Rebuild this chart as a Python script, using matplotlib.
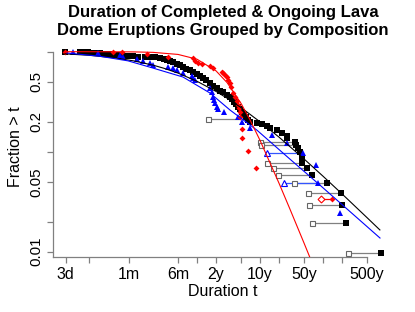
import numpy as np
import matplotlib.pyplot as plt

plt.rcParams['font.family'] = ['Liberation Sans', 'DejaVu Sans']

# durations in years, fraction still erupting after t
black_t = [0.00803, 0.0139, 0.0167, 0.0186, 0.0216, 0.0249, 0.0289, 0.0334, 0.0373, 0.0431,
           0.050, 0.0557, 0.0622, 0.072, 0.0803, 0.0965, 0.1157, 0.1496, 0.1795, 0.2155,
           0.2588, 0.2995, 0.334, 0.3728, 0.416, 0.4816, 0.5372, 0.5995, 0.669, 0.774,
           0.864, 1.0, 1.116, 1.245, 1.389, 1.608, 1.795, 2.076, 2.318, 2.587,
           2.995, 3.342, 3.595, 3.867, 4.16, 4.475, 4.814, 5.179, 5.571, 5.993,
           6.447, 6.936, 8.96, 10.76, 12.92, 14.41, 18.62, 22.35, 26.83, 26.83,
           35.94, 37.27, 40.1, 43.1, 46.4, 46.4, 55.7, 66.9, 115.7, 193,
           200, 232, 833]
black_S = [1.0, 0.995, 0.993, 0.985, 0.980, 0.971, 0.966, 0.959, 0.948, 0.942,
           0.933, 0.927, 0.916, 0.906, 0.906, 0.900, 0.895, 0.885, 0.881, 0.875,
           0.865, 0.845, 0.826, 0.807, 0.780, 0.753, 0.736, 0.703, 0.679, 0.656,
           0.627, 0.599, 0.578, 0.546, 0.521, 0.487, 0.454, 0.434, 0.405, 0.391,
           0.369, 0.352, 0.336, 0.314, 0.300, 0.280, 0.267, 0.249, 0.232, 0.222,
           0.207, 0.198, 0.193, 0.189, 0.180, 0.172, 0.164, 0.153, 0.142, 0.136,
           0.126, 0.117, 0.109, 0.0998, 0.0889, 0.0776, 0.0692, 0.0589, 0.0489, 0.0389,
           0.0295, 0.0195, 0.00973]

blue_t = [0.01076, 0.0268, 0.060, 0.0669, 0.1116, 0.139, 0.1795, 0.2004, 0.3465, 0.416,
          0.4816, 0.5995, 0.833, 0.864, 0.930, 1.608, 1.73, 1.795, 1.862, 1.931,
          2.076, 2.154, 2.683, 4.475, 5.179, 6.936, 15.5, 26.83, 48.2, 77.4,
          83.3, 186]
blue_S = [1.0, 0.971, 0.927, 0.885, 0.845, 0.807, 0.771, 0.736, 0.703, 0.687,
          0.656, 0.612, 0.571, 0.546, 0.521, 0.434, 0.395, 0.352, 0.329, 0.307,
          0.280, 0.267, 0.249, 0.222, 0.198, 0.172, 0.146, 0.122, 0.0975, 0.0741,
          0.0489, 0.0245]

red_t = [0.00803, 0.0464, 0.0645, 0.161, 0.3465, 0.864, 0.930, 1.037, 1.200, 1.608,
         1.795, 2.494, 2.587, 2.783, 2.995, 3.107, 3.342, 3.467, 3.728, 4.011,
         4.315, 4.475, 4.642, 4.814, 4.814, 5.179, 5.179, 6.447, 8.64, 139]
red_S = [1.0, 0.993, 0.982, 0.938, 0.885, 0.855, 0.807, 0.771, 0.753, 0.719,
         0.687, 0.627, 0.606, 0.585, 0.558, 0.521, 0.487, 0.444, 0.386, 0.352,
         0.321, 0.293, 0.273, 0.249, 0.222, 0.168, 0.136, 0.102, 0.0692, 0.0339]

# ongoing eruptions: current duration (open) to projected (filled)
grey_open = [1.494, 10.0, 10.37, 12.92, 16.08, 19.31, 34.66, 57.8, 59.9, 66.9, 249]
grey_end = [4.814, 35.94, 37.27, 46.4, 55.7, 66.9, 115.7, 193, 200, 232, 833]
grey_S = [0.212, 0.126, 0.117, 0.0776, 0.0692, 0.0589, 0.0489, 0.0389, 0.0295, 0.0195, 0.00973]
blue_open = [12.92, 24.04]
blue_end = [48.2, 83.3]
blue_oS = [0.0975, 0.0489]
red_open = [93.0]
red_end = [139]
red_oS = [0.0339]

# fitted curves
fit_t = [0.008, 0.02, 0.05, 0.1, 0.2, 0.3, 0.5, 1, 2, 3, 5, 10, 20, 50, 100, 200, 500, 800]
fit_black = [0.952, 0.919, 0.866, 0.808, 0.734, 0.682, 0.611, 0.506, 0.401, 0.343,
             0.276, 0.199, 0.140, 0.0846, 0.0569, 0.0379, 0.0219, 0.0165]
blue_fit_t = [0.00864, 0.0289, 0.0803, 0.1795, 0.5995, 1.608, 3.342, 8.96, 29.93, 89.5, 268, 803]
fit_blue = [0.97, 0.90, 0.81, 0.70, 0.558, 0.386, 0.261, 0.164, 0.0842, 0.0463, 0.0252, 0.0137]
red_fit_t = [0.008, 0.05, 0.1, 0.2, 0.5, 1, 2, 3, 5, 7, 10, 20, 30, 50, 60, 80]
fit_red = [1.0, 0.998, 0.995, 0.985, 0.939, 0.841, 0.644, 0.491, 0.304, 0.206,
           0.130, 0.0485, 0.0265, 0.0122, 0.0092, 0.0059]

xticks = [3/365, 7/365, 1/12, 0.5, 1, 2, 5, 10, 20, 50, 100, 200, 500]
xlabels = ['3d', '', '1m', '6m', '', '2y', '', '10y', '', '50y', '', '', '500y']
yticks = [0.01, 0.02, 0.05, 0.1, 0.2, 0.5, 1]
ylabels = ['0.01', '', '0.05', '', '0.2', '0.5', '']

W, H = 415, 312
fig = plt.figure(figsize=(W / 100, H / 100), dpi=100)
ax = fig.add_axes([53 / W, (H - 257) / H, (390 - 53) / W, (257 - 40) / H])
ax.set_xscale('log')
ax.set_yscale('log')
ax.set_xlim(0.005179, 1157.5)
ax.set_ylim(0.00885, 1.309)

# ongoing segments
for o, e, s in zip(grey_open, grey_end, grey_S):
    ax.plot([o, e], [s, s], color='0.5', lw=0.9, zorder=2)
ax.plot(grey_open, grey_S, 's', ms=3.6, mfc='white', mec='0.4', mew=0.8, zorder=4)
for o, e, s in zip(blue_open, blue_end, blue_oS):
    ax.plot([o, e], [s, s], color='#3355ff', lw=0.9, zorder=2)
ax.plot(blue_open, blue_oS, '^', ms=4, mfc='white', mec='blue', mew=0.8, zorder=4)
for o, e, s in zip(red_open, red_end, red_oS):
    ax.plot([o, e], [s, s], color='red', lw=0.9, zorder=2)
ax.plot(red_open, red_oS, 'D', ms=3.5, mfc='white', mec='red', mew=0.8, zorder=4)

# completed eruptions
ax.plot(black_t, black_S, 's', ms=3.8, color='black', mew=0, zorder=3)
ax.plot(blue_t, blue_S, '^', ms=4.8, color='blue', mew=0, zorder=3)
ax.plot(red_t, red_S, 'D', ms=3.0, color='red', mew=0, zorder=3)

# fits
ax.plot(fit_t, fit_black, color='black', lw=0.8, zorder=5)
ax.plot(blue_fit_t, fit_blue, color='blue', lw=0.8, zorder=5)
ax.plot(red_fit_t, fit_red, color='red', lw=0.8, zorder=5)

for side in ['top', 'right']:
    ax.spines[side].set_visible(False)
ax.spines['left'].set_bounds(0.00885, 1.0)
ax.spines['bottom'].set_bounds(0.005179, 500)
for side in ['left', 'bottom']:
    ax.spines[side].set_color('0.5')
    ax.spines[side].set_linewidth(0.9)

ax.minorticks_off()
ax.set_xticks(xticks)
ax.set_xticklabels(xlabels, fontsize=11.5)
ax.set_yticks(yticks)
ax.set_yticklabels(ylabels, fontsize=10.8, rotation=90, va='center')
ax.minorticks_off()
ax.tick_params(length=4, width=0.9, color='0.5', pad=3)

fig.text(223 / W, 1 - 12 / H, 'Duration of Completed & Ongoing Lava', ha='center', va='center',
         fontsize=12, fontweight='bold')
fig.text(223 / W, 1 - 31 / H, 'Dome Eruptions Grouped by Composition', ha='center', va='center',
         fontsize=12, fontweight='bold')
fig.text(223 / W, 1 - 291 / H, 'Duration t', ha='center', va='center', fontsize=11.5)
fig.text(15 / W, 1 - 147 / H, 'Fraction > t', ha='center', va='center', fontsize=11.5, rotation=90)

fig.savefig('out.png', dpi=100)
